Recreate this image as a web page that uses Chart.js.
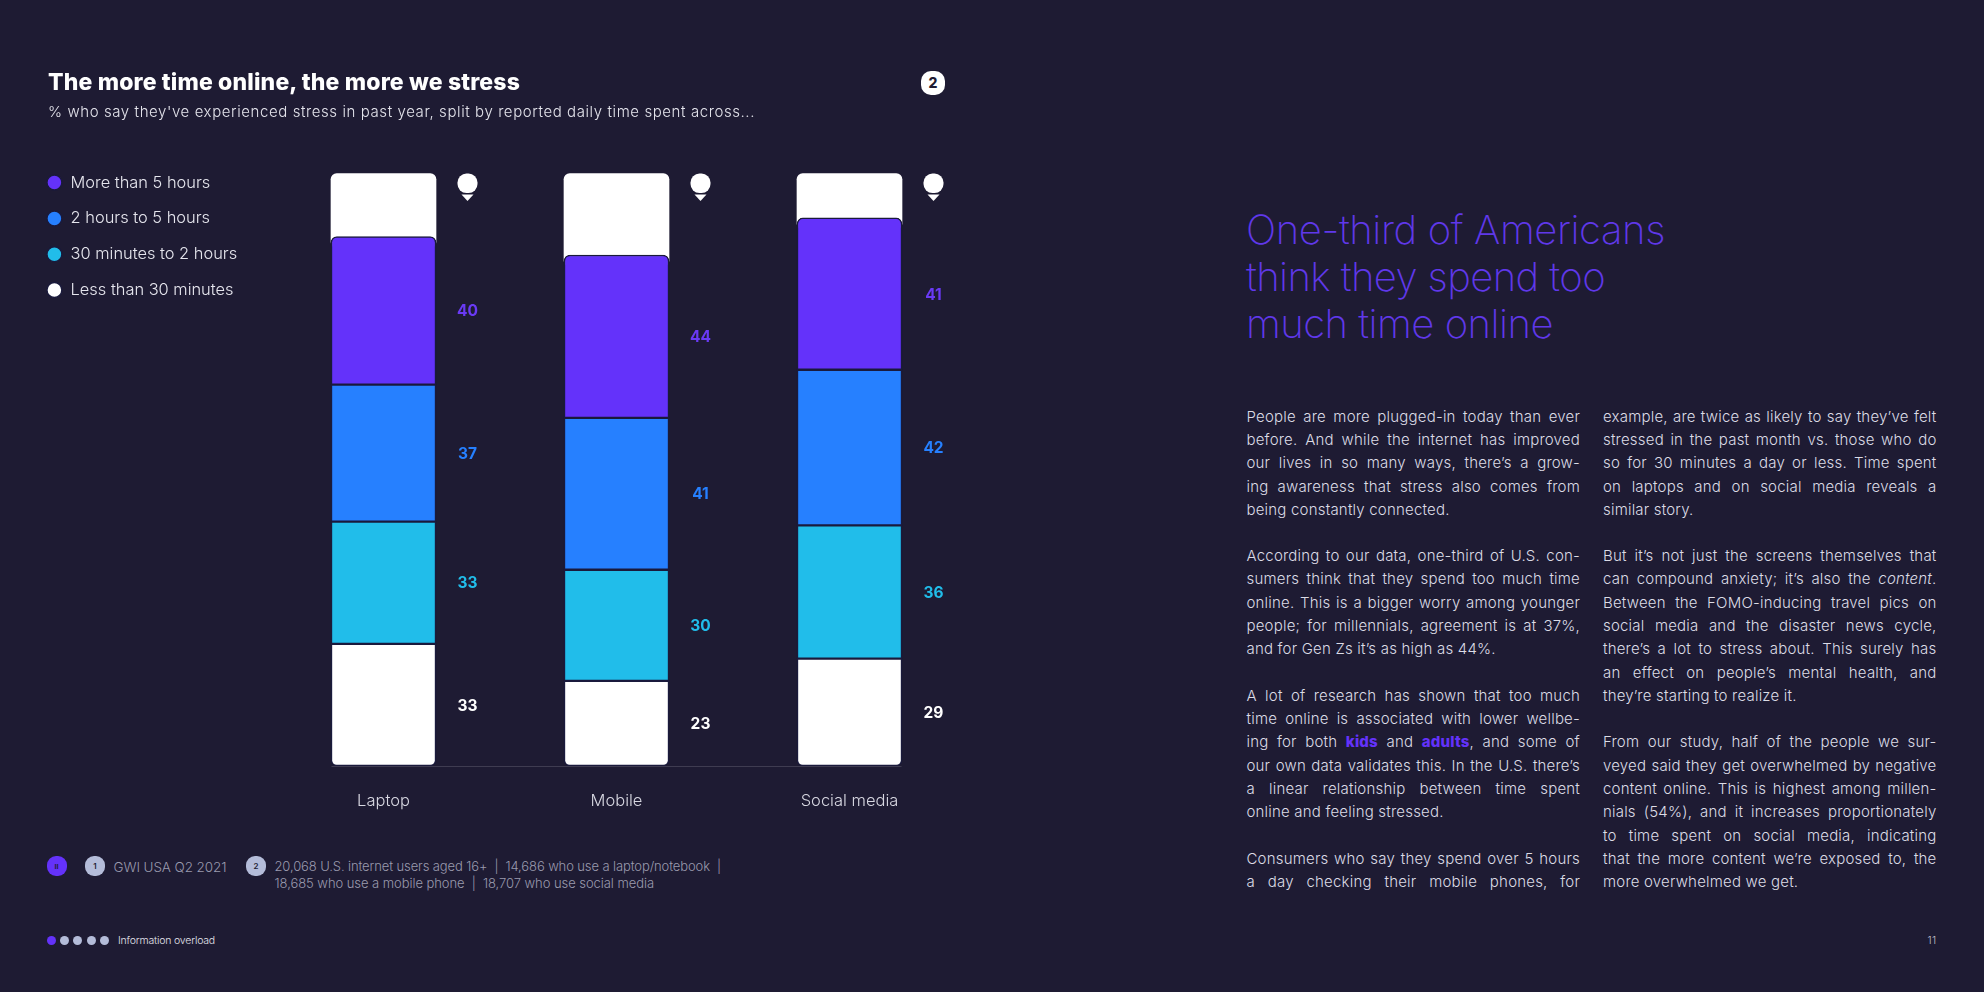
<!DOCTYPE html>
<html><head><meta charset="utf-8">
<script src="https://cdn.jsdelivr.net/npm/chart.js@4/dist/chart.umd.js"></script>
<style>
html,body{margin:0;padding:0;background:#1e1b33;width:1984px;height:992px;overflow:hidden;font-family:Inter,sans-serif}
#chartBox{position:absolute;left:0;top:0;width:980px;height:830px}
.t{position:absolute;white-space:nowrap;line-height:1.2;color:#fff}
.body{font-weight:300;font-size:15px;color:#dcdce6;letter-spacing:.2px}
.body b{font-weight:800;color:#6432fa}
.dot{position:absolute;border-radius:50%;background:#b4bcd9}
.chip{position:absolute;width:20px;height:20px;border-radius:9px;background:#b4bcd9;color:#1e1b33;font-size:8px;font-weight:600;text-align:center;line-height:20px}
</style></head><body>
<div id="chartBox"><canvas id="c" width="980" height="830"></canvas></div>
<div id="page"></div>
<script>
const categories=['Laptop','Mobile','Social media'];
const lessThan30Min=[33,23,29];
const min30To2Hours=[33,30,36];
const hours2To5=[37,41,42];
const moreThan5Hours=[40,44,41];
const columnStub=[[140,160],[135,160],[145,160]];
const seriesNames=['Less than 30 minutes','30 minutes to 2 hours','2 hours to 5 hours','More than 5 hours'];
const seriesColors=['#ffffff','#21bdea','#2680ff','#6432fa'];
const labelColors=['#ffffff','#21bdea','#2680ff','#6a3af5'];
const titleText='The more time online, the more we stress';
const subtitleText="% who say they've experienced stress in past year, split by reported daily time spent across...";
const headingLines=['One-third of Americans','think they spend too','much time online'];
const col1=[
[417,'People are more plugged-in today than ever',1],[439.5,'before. And while the internet has improved',1],[463,'our lives in so many ways, there’s a grow-',1],[486.5,'ing awareness that stress also comes from',1],[509.5,'being constantly connected.',0],
[556,'According to our data, one-third of U.S. con-',1],[579.3,'sumers think that they spend too much time',1],[602.7,'online. This is a bigger worry among younger',1],[626.3,'people; for millennials, agreement is at 37%,',1],[649,'and for Gen Zs it’s as high as 44%.',0],
[696,'A lot of research has shown that too much',1],[719.3,'time online is associated with lower wellbe-',1],[742,'ing for both <b>kids</b> and <b>adults</b>, and some of',1],[766,'our own data validates this. In the U.S. there’s',1],[789.3,'a linear relationship between time spent',1],[812.3,'online and feeling stressed.',0],
[859.3,'Consumers who say they spend over 5 hours',1],[882.3,'a day checking their mobile phones, for',1]];
const col2=[
[417,'example, are twice as likely to say they’ve felt',1],[439.5,'stressed in the past month vs. those who do',1],[463,'so for 30 minutes a day or less. Time spent',1],[486.5,'on laptops and on social media reveals a',1],[509.5,'similar story.',0],
[556,'But it’s not just the screens themselves that',1],[579.3,'can compound anxiety; it’s also the <i>content</i>.',1],[602.7,'Between the FOMO-inducing travel pics on',1],[626.3,'social media and the disaster news cycle,',1],[649,'there’s a lot to stress about. This surely has',1],[672.7,'an effect on people’s mental health, and',1],[696,'they’re starting to realize it.',0],
[742,'From our study, half of the people we sur-',1],[766,'veyed said they get overwhelmed by negative',1],[789.3,'content online. This is highest among millen-',1],[812.3,'nials (54%), and it increases proportionately',1],[836,'to time spent on social media, indicating',1],[859.3,'that the more content we’re exposed to, the',1],[882.3,'more overwhelmed we get.',0]];

const page=document.getElementById('page');
function place(html,x,yc,w,css){
  const d=document.createElement('div');d.className='t';d.innerHTML=html;Object.assign(d.style,css||{});
  d.style.left=x+'px';page.appendChild(d);
  const r=d.getBoundingClientRect();d.style.top=(yc-r.height/2)+'px';
  if(w){const n=d.textContent.length;const base=parseFloat(getComputedStyle(d).letterSpacing)||0;
    d.style.letterSpacing=(base+(w-r.width)/n)+'px';}
  return d;
}
function bodyLine(html,x,yc,just){
  const d=document.createElement('div');d.className='t body';d.innerHTML=html;d.style.left=x+'px';page.appendChild(d);
  const r=d.getBoundingClientRect();d.style.top=(yc-r.height/2)+'px';
  if(just){const W=333.5;
    if(r.width>W-1){d.style.letterSpacing=(0.2+(W-1-r.width)/d.textContent.length)+'px';}
    d.style.whiteSpace='normal';d.style.width=W+'px';d.style.textAlign='justify';d.style.textAlignLast='justify';}
}
place(titleText,48,82.5,472,{fontWeight:800,fontSize:'23px'});
place(subtitleText,48,112,707,{fontWeight:300,fontSize:'15px',color:'#e4e4ec'});
place('2',921,83,0,{fontWeight:800,fontSize:'14px',color:'#1e1b33',background:'#fff',width:'24px',height:'24px',lineHeight:'24px',textAlign:'center',borderRadius:'10px'});
[419,359,307].forEach((w,i)=>place(headingLines[i],1246,[230,277,324][i],w,{fontWeight:200,fontSize:'40px',color:'#6038ea'}));
col1.forEach(l=>bodyLine(l[1],1246.5,l[0],l[2]));
col2.forEach(l=>bodyLine(l[1],1603,l[0],l[2]));
function chip(x,yc,txt,bg){const d=document.createElement('div');d.className='chip';d.style.left=x+'px';d.style.top=(yc-10)+'px';d.textContent=txt;if(bg)d.style.background=bg;page.appendChild(d);}
chip(46.5,866,'ıı','#6432fa');chip(85,866,'1');chip(246,866,'2');
place('GWI USA Q2 2021',113.5,866.7,113,{fontWeight:300,fontSize:'13.5px',color:'#9a9aae'});
place('20,068 U.S. internet users aged 16+&nbsp; |&nbsp; 14,686 who use a laptop/notebook&nbsp; |',274.5,866.7,446.5,{fontWeight:300,fontSize:'13px',color:'#9a9aae'});
place('18,685 who use a mobile phone&nbsp; |&nbsp; 18,707 who use social media',274.5,884,379.5,{fontWeight:300,fontSize:'13px',color:'#9a9aae'});
[51.3,64.3,77.7,91,104.3].forEach((x,i)=>{const d=document.createElement('div');d.className='dot';d.style.cssText=`left:${x-4.5}px;top:936.3px;width:9px;height:9px;background:${i?'#b4bcd9':'#6432fa'}`;page.appendChild(d);});
place('Information overload',118,941,97,{fontWeight:300,fontSize:'10.5px',color:'#e4e4ec'});
place('11',1927.5,941,9,{fontWeight:300,fontSize:'10.5px',color:'#c0c0cc'});

const border='#1a1a3c';
const mk=(i,data,radius)=>({label:seriesNames[i],data,backgroundColor:seriesColors[i],borderColor:border,borderWidth:1.5,borderSkipped:false,borderRadius:radius,barThickness:105,stack:'main'});
let yAxisWidth=10;
const sideLabels={id:'sideLabels',afterDatasetsDraw(chart){
  const ctx=chart.ctx;ctx.save();
  ctx.textAlign='center';ctx.textBaseline='middle';ctx.font='700 15.5px Inter';
  for(let s=0;s<4;s++){const meta=chart.getDatasetMeta(s);
    meta.data.forEach((bar,i)=>{const p=bar.getProps(['x','y','base']);
      ctx.fillStyle=labelColors[s];
      ctx.fillText(String(chart.data.datasets[s].data[i]),p.x+84,(p.y+p.base)/2+1);});}
  const m=chart.getDatasetMeta(0).data;
  m.forEach(bar=>{const x=bar.x+84,y=chart.scales.y.getPixelForValue(160);
    ctx.fillStyle='#fff';ctx.beginPath();ctx.roundRect(x-10,y,20,19.5,9);ctx.fill();
    ctx.beginPath();ctx.moveTo(x-6,y+21);ctx.lineTo(x+6,y+21);ctx.lineTo(x,y+27.5);ctx.closePath();ctx.fill();});
  const b0=m[0],b2=m[m.length-1],yb=chart.scales.y.getPixelForValue(0);
  ctx.strokeStyle='rgba(255,255,255,0.15)';ctx.lineWidth=1;ctx.beginPath();ctx.moveTo(b0.x-52,yb+.5);ctx.lineTo(b2.x+52,yb+.5);ctx.stroke();
  ctx.restore();
}};
const chart=new Chart(document.getElementById('c'),{type:'bar',
 data:{labels:categories,datasets:[
  mk(0,lessThan30Min,{bottomLeft:6,bottomRight:6}),
  mk(1,min30To2Hours,0),
  mk(2,hours2To5,0),
  mk(3,moreThan5Hours,{topLeft:6,topRight:6}),
  {label:'stub',data:columnStub,backgroundColor:'#fff',borderWidth:0,borderRadius:6,borderSkipped:false,grouped:false,stack:'stub',maxBarThickness:105,barPercentage:1,categoryPercentage:1}
 ]},
 plugins:[sideLabels],
 options:{responsive:false,animation:false,devicePixelRatio:1,
  layout:{padding:{left:27,top:155,right:14,bottom:4}},
  plugins:{tooltip:{enabled:false},title:{display:false},
   legend:{position:'left',align:'start',reverse:true,
    labels:{usePointStyle:true,pointStyle:'circle',boxHeight:10.6,boxWidth:16,padding:19.4,color:'#e6e6ee',font:{family:'Inter',size:16.4,weight:300},filter:it=>it.text!=='stub'}}},
  scales:{
   x:{grid:{display:false},border:{display:false},afterFit:s=>{s.height=60},
      ticks:{color:'#d8d8e2',padding:17.5,maxRotation:0,font:{family:'Inter',size:16.5,weight:300}}},
   y:{stacked:true,min:0,max:165,grid:{display:false},border:{display:false},
      ticks:{display:false},afterFit:s=>{s.width=yAxisWidth}}
  }}});
yAxisWidth=yAxisWidth+(267-chart.chartArea.left);chart.update('none');
</script></body></html>
